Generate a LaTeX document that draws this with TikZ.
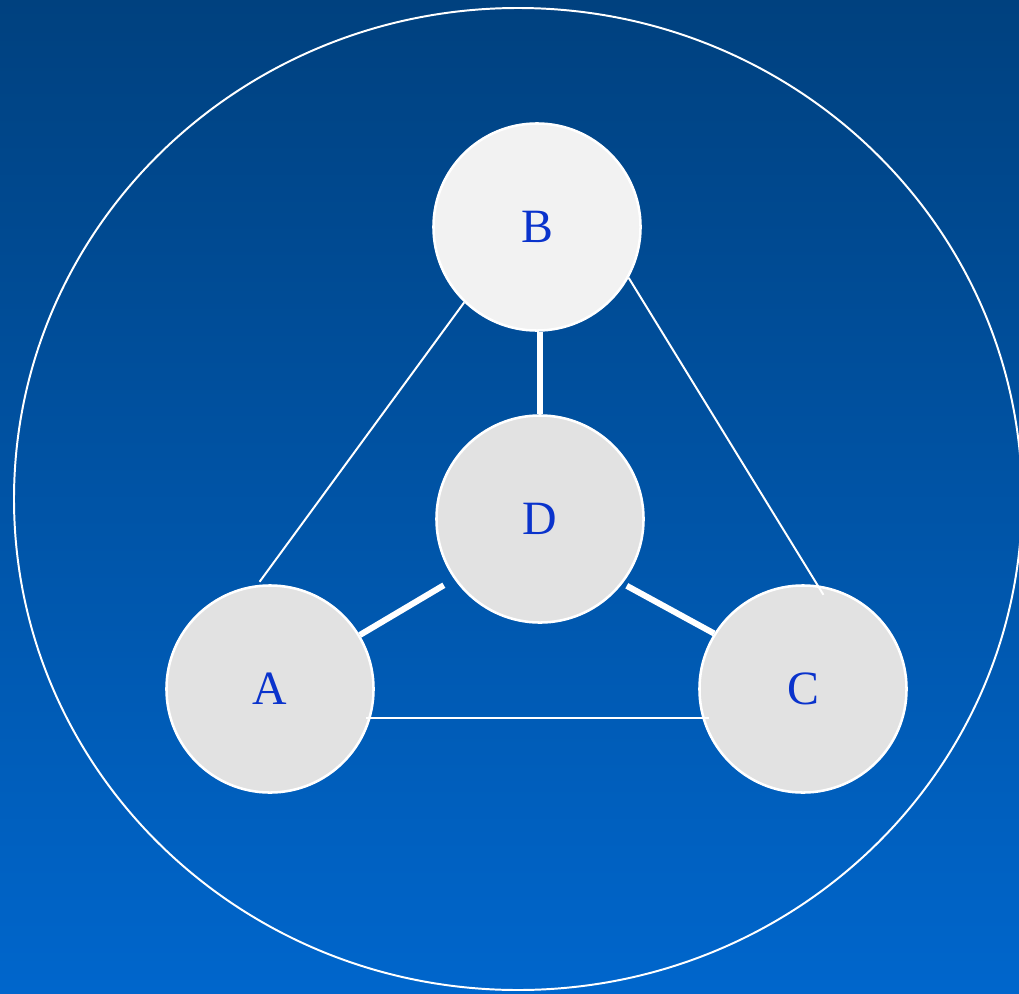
\documentclass[tikz,border=0pt]{standalone}
\usepackage{fontspec}
\setmainfont{Liberation Serif}
\usetikzlibrary{positioning}
\definecolor{deepblue}{HTML}{00417F}
\definecolor{skyblue}{HTML}{0066CC}
\definecolor{letter}{HTML}{0A33CC}
\definecolor{pale}{HTML}{F2F2F2}
\definecolor{lightgray}{HTML}{E2E2E2}

\begin{document}
\begin{tikzpicture}[x=0.025cm, y=-0.025cm,
    every node/.style={font=\fontsize{34}{40}\selectfont, text=letter},
    site/.style={circle, draw=white, line width=1.8pt, minimum size=5.175cm, inner sep=0pt},
    thinlink/.style={white, line width=1.4pt},
    thicklink/.style={white, line width=4.3pt}]
    \clip (0,0) rectangle (1019,993);
    \shade[top color=deepblue, bottom color=skyblue] (0,0) rectangle (1019,993);
    \draw[white, line width=1.4pt] (518,499) ellipse [x radius=504, y radius=491];
    \foreach \n/\x/\y/\f in {B/537/227/pale, D/540/519/lightgray, A/270/689/lightgray, C/803/689/lightgray}{
      \node[site, fill=\f] (\n) at (\x,\y) {\n};
    }
    % links between the sites
    \draw[thicklink] (D.north |- B.south) -- (D.north);
    \draw[thicklink, shorten <=0.3cm] (D.215) -- (A.31);
    \draw[thicklink, shorten <=0.12cm] (D.322) -- (C.148);
    \draw[thinlink, shorten >=0.1cm] (B.226) -- (A.97);
    \draw[thinlink, shorten >=-0.28cm] (B.331) -- (C.82);
    \draw[thinlink, shorten <=-0.12cm, shorten >=-0.17cm] (A.-16) -- (C.196);
  \end{tikzpicture}
\end{document}
